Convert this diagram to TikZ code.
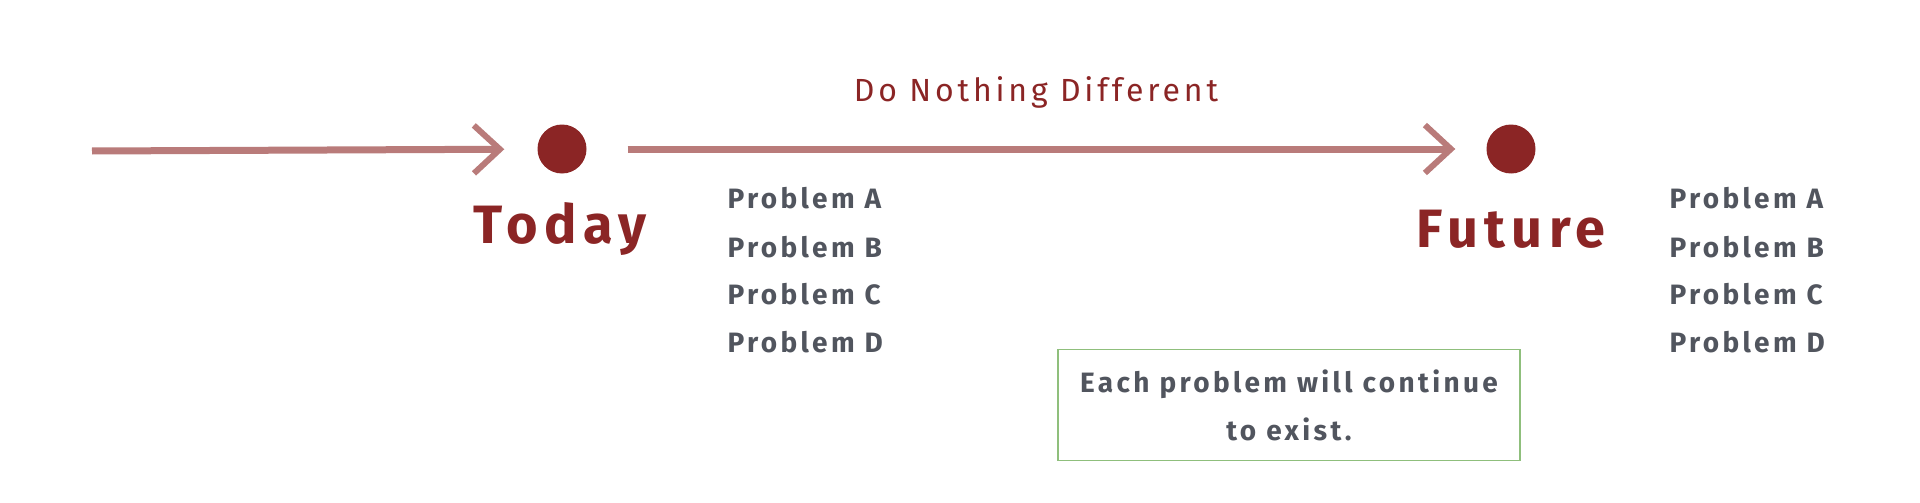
\documentclass[tikz,border=0pt]{standalone}
\usepackage{fontspec}
\setmainfont{Fira Sans}[LetterSpace=12]
\usetikzlibrary{arrows.meta}
\definecolor{dotred}{HTML}{8B2525}
\definecolor{brush}{HTML}{B97B7A}
\definecolor{ink}{HTML}{51555E}
\definecolor{boxgreen}{HTML}{8FBF7C}
\tikzset{
  dot/.style={circle,fill=dotred,minimum size=49pt,inner sep=0pt},
  when/.style={text=dotred,font=\fontsize{54}{60}\selectfont\bfseries},
  prob/.style={text=ink,anchor=west,font=\fontsize{28}{34}\selectfont\bfseries},
  stroke/.style={brush,line width=7pt,-{Straight Barb[length=26pt,width=48pt,line width=6pt]}}
}
\begin{document}
\begin{tikzpicture}[x=1pt,y=-1pt]
\useasboundingbox (0,0) rectangle (1920,503);

\coordinate (s) at (92,151);
\node[dot] (today) at (562,149) {};
\node[dot] (future) at (1511,149) {};

\node[when] (tlabel) at (560,229) {Today};
\node[when] (flabel) at (1511,229) {Future};

\node[text=dotred,font=\fontsize{32}{38}\selectfont] (plan) at (1036,92) {Do Nothing Different};

\node[prob] (a1) at (724,198) {Problem A};
\node[prob] (b1) at (724,247) {Problem B};
\node[prob] (c1) at (724,294) {Problem C};
\node[prob] (d1) at (724,342) {Problem D};

\node[prob] (a2) at (1666,198) {Problem A};
\node[prob] (b2) at (1666,247) {Problem B};
\node[prob] (c2) at (1666,294) {Problem C};
\node[prob] (d2) at (1666,342) {Problem D};

\node[draw=boxgreen,line width=1.2pt,minimum width=462pt,minimum height=111pt,align=center,
  text=ink,font=\fontsize{28}{48}\selectfont\bfseries] (note) at (1289,405)
  {Each problem will continue\\to exist.};

\draw[stroke,shorten >=33pt] (s) -- (today);
\draw[stroke,shorten <=41pt,shorten >=31pt] (today) -- (future);
\end{tikzpicture}
\end{document}
